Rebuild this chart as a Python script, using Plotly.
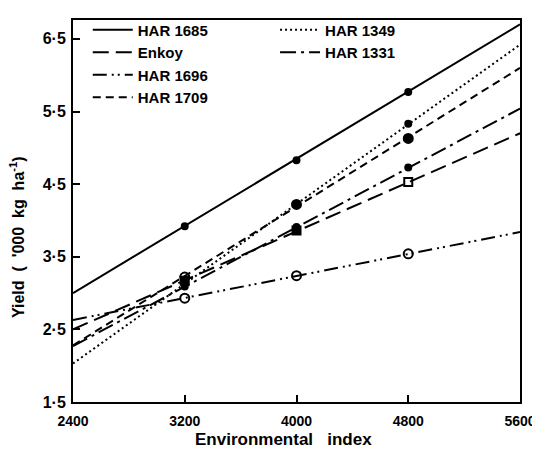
import plotly.graph_objects as go

# Regression line end points (environmental index 2400 and 5600)
x_ends = [2400, 5600]
har1685_line = [3.00, 6.70]
enkoy_line = [2.50, 5.20]
har1696_line = [2.63, 3.84]
har1709_line = [2.28, 6.10]
har1349_line = [2.03, 6.42]
har1331_line = [2.27, 5.54]

# Observed points
pts_x = [3200, 4000, 4800]
har1685_pts = [3.92, 4.83, 5.77]
har1349_pts = [3.13, 4.22, 5.33]
har1709_pts = [3.22, 4.22, 5.13]
enkoy_pts = [3.17, 3.86, 4.53]
har1331_pts = [3.09, 3.91, 4.73]
har1696_pts = [2.93, 3.24, 3.54]

x_ticks = [2400, 3200, 4000, 4800, 5600]
y_ticks = [1.5, 2.5, 3.5, 4.5, 5.5, 6.5]
y_tick_text = ["1·5", "2·5", "3·5", "4·5", "5·5", "6·5"]

FONT = "Liberation Sans"
fig = go.Figure()

lines = [
    ("HAR 1685", har1685_line, "solid", "legend"),
    ("Enkoy", enkoy_line, "16px,7px", "legend"),
    ("HAR 1696", har1696_line, "14px,5px,2px,4px,2px,5px", "legend"),
    ("HAR 1709", har1709_line, "8px,5px", "legend"),
    ("HAR 1349", har1349_line, "2px,3px", "legend2"),
    ("HAR 1331", har1331_line, "16px,5px,3px,5px", "legend2"),
]
for name, ys, dash, lg in lines:
    fig.add_trace(go.Scatter(x=x_ends, y=ys, mode="lines", name=name,
                             line=dict(color="black", width=2, dash=dash),
                             legend=lg))

markers = [
    (har1685_pts, ["circle"] * 3, 6),
    (har1349_pts, ["circle"] * 3, 6),
    (har1709_pts, ["circle-open", "circle", "circle"], 9),
    (enkoy_pts, ["square", "square", "square-open"], 8),
    (har1331_pts, ["circle"] * 3, 6),
    (har1696_pts, ["circle-open"] * 3, 9),
]
for ys, syms, sz in markers:
    fig.add_trace(go.Scatter(x=pts_x, y=ys, mode="markers", showlegend=False,
                             marker=dict(color="black", size=sz, symbol=syms,
                                         line=dict(color="black", width=2))))

axis_common = dict(showline=True, linecolor="black", linewidth=2, mirror=True,
                   ticks="inside", ticklen=7, tickwidth=2, tickcolor="black",
                   showgrid=False, zeroline=False)

legend_font = dict(family=FONT, size=15, color="black", weight="bold")
# The page body has an 8px margin, so the figure is sized to fit the window.
fig.update_layout(
    width=532, height=441,
    margin=dict(l=65, r=20, t=5, b=47),
    paper_bgcolor="white", plot_bgcolor="white",
    xaxis=dict(range=[2400, 5600], tickvals=x_ticks, ticklabelstandoff=5,
               tickfont=dict(family=FONT, size=14, color="black", weight="bold"),
               **axis_common),
    yaxis=dict(range=[1.5, 6.76], tickvals=y_ticks, ticktext=y_tick_text,
               ticklabelstandoff=2,
               tickfont=dict(family=FONT, size=16, color="black", weight="bold"),
               **axis_common),
    legend=dict(x=0.033, y=1.017, xanchor="left", yanchor="top", bgcolor="rgba(0,0,0,0)",
                font=legend_font, tracegroupgap=0, itemwidth=40),
    legend2=dict(x=0.452, y=1.017, xanchor="left", yanchor="top", bgcolor="rgba(0,0,0,0)",
                 font=legend_font, itemwidth=40),
    annotations=[
        dict(text="Environmental   index", xref="paper", yref="paper", x=0.47, y=-0.098,
             showarrow=False, xanchor="center", yanchor="middle",
             font=dict(family=FONT, size=17, color="black", weight="bold")),
        dict(text="Yield  (  '000  kg  ha<sup>-1</sup>)", xref="paper", yref="paper",
             x=-0.125, y=0.432, textangle=-90, showarrow=False,
             xanchor="center", yanchor="middle",
             font=dict(family=FONT, size=16, color="black", weight="bold")),
    ],
)

fig.write_html("out.html")
